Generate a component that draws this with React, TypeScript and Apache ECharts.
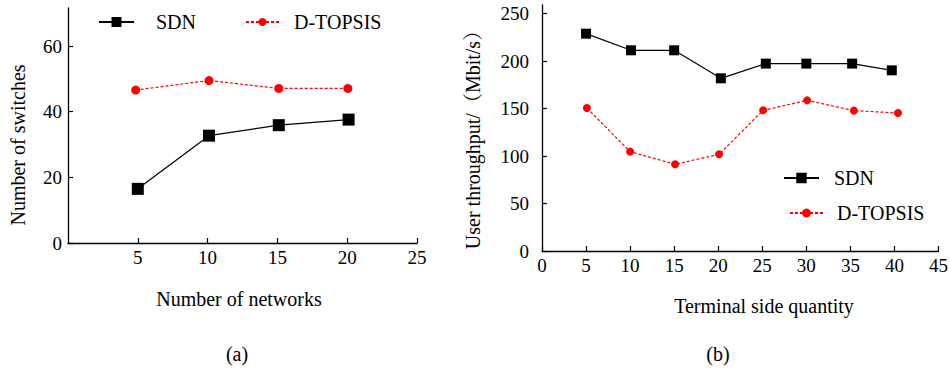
import React, { useEffect, useRef } from "react";
import * as echarts from "echarts";

// ---- Data ----
// Chart (a): Number of switches vs number of networks
const sdnA_x = [5, 10.1, 15.1, 20.1];
const sdnA_y = [16.5, 32.7, 35.9, 37.6];
const topsisA_x = [4.85, 10.1, 15.1, 20.05];
const topsisA_y = [46.6, 49.5, 47.1, 47.1];
const ticksAX = [5, 10, 15, 20, 25];
const ticksAY = [0, 20, 40, 60];

// Chart (b): User throughput vs terminal side quantity
const sdnB_x = [5.0, 10.1, 15.0, 20.3, 25.4, 30.0, 35.2, 39.7];
const sdnB_y = [228.8, 211.3, 211.3, 181.8, 197.3, 197.3, 197.3, 190.2];
const topsisB_x = [5.1, 10.0, 15.1, 20.1, 25.1, 30.1, 35.4, 40.4];
const topsisB_y = [150.5, 104.6, 91.3, 101.8, 148.1, 158.6, 147.8, 145.3];
const ticksBX = [0, 5, 10, 15, 20, 25, 30, 35, 40, 45];
const ticksBY = [0, 50, 100, 150, 200, 250];

const seriesNames = ["SDN", "D-TOPSIS"];
const titles = {
  ax: "Number of networks",
  ay: "Number of switches",
  bx: "Terminal side quantity",
  by: "User throughput/（Mbit/s）",
  ca: "(a)",
  cb: "(b)",
};

const FONT = "Liberation Serif, Noto Serif CJK SC, Noto Sans CJK SC, serif";
const RED = "#ff0000";

const zip = (xs: number[], ys: number[]) => xs.map((x, i) => [x, ys[i]]);

export default function App() {
  const ref = useRef<HTMLDivElement>(null);

  useEffect(() => {
    if (!ref.current) return;
    const chart = echarts.init(ref.current, undefined, { renderer: "svg" });

    const axisLine = { lineStyle: { color: "#000", width: 1.3 } };
    const axisTick = (vals: number[]) => ({
      inside: true,
      length: 5,
      lineStyle: { color: "#000", width: 1.2 },
      customValues: vals,
    });
    const axisLabel = (vals: number[], margin: number) => ({
      color: "#000",
      fontFamily: FONT,
      fontSize: 19,
      margin,
      customValues: vals,
    });

    const legendText = (pad: number) => ({
      color: "#000",
      fontFamily: FONT,
      fontSize: 20,
      lineHeight: 20,
      padding: [0, 0, 0, pad],
    });

    const textEl = (text: string, x: number, y: number, rotation = 0) => ({
      type: "text",
      x,
      y,
      rotation,
      style: {
        text,
        fill: "#000",
        fontFamily: FONT,
        fontSize: 20,
        align: "center",
        verticalAlign: "middle",
      },
    });

    chart.setOption({
      animation: false,
      backgroundColor: "#fff",
      grid: [
        { left: 68, top: 8, width: 349, height: 235 },
        { left: 542, top: 5, width: 398.5, height: 246 },
      ],
      xAxis: [
        {
          type: "value",
          gridIndex: 0,
          min: 0,
          max: 25,
          interval: 5,
          axisLine,
          axisTick: axisTick(ticksAX),
          axisLabel: axisLabel(ticksAX, 5),
          splitLine: { show: false },
        },
        {
          type: "value",
          gridIndex: 1,
          min: 0,
          max: 45,
          interval: 5,
          axisLine,
          axisTick: axisTick(ticksBX),
          axisLabel: axisLabel(ticksBX, 5),
          splitLine: { show: false },
        },
      ],
      yAxis: [
        {
          type: "value",
          gridIndex: 0,
          min: 0,
          max: 71.6,
          axisLine: { show: true, ...axisLine },
          axisTick: axisTick(ticksAY),
          axisLabel: axisLabel(ticksAY, 6),
          splitLine: { show: false },
        },
        {
          type: "value",
          gridIndex: 1,
          min: 0,
          max: 259,
          axisLine: { show: true, ...axisLine },
          axisTick: axisTick(ticksBY),
          axisLabel: axisLabel(ticksBY, 13),
          splitLine: { show: false },
        },
      ],
      legend: [
        {
          data: [seriesNames[0]],
          left: 98,
          top: 12,
          padding: 0,
          itemWidth: 35,
          itemHeight: 12.5,
          selectedMode: false,
          textStyle: legendText(17),
        },
        {
          data: [seriesNames[1]],
          left: 245,
          top: 12,
          padding: 0,
          itemWidth: 33,
          itemHeight: 10,
          selectedMode: false,
          textStyle: legendText(10),
        },
        {
          data: [seriesNames[0]],
          left: 783,
          top: 168,
          padding: 0,
          itemWidth: 35,
          itemHeight: 13,
          selectedMode: false,
          textStyle: legendText(10),
        },
        {
          data: [seriesNames[1]],
          left: 789,
          top: 203,
          padding: 0,
          itemWidth: 33,
          itemHeight: 11,
          selectedMode: false,
          textStyle: legendText(9),
        },
      ],
      series: [
        {
          name: seriesNames[0],
          type: "line",
          xAxisIndex: 0,
          yAxisIndex: 0,
          data: zip(sdnA_x, sdnA_y),
          symbol: "rect",
          symbolSize: 12,
          itemStyle: { color: "#000" },
          lineStyle: { color: "#000", width: 1.2, type: "solid" },
        },
        {
          name: seriesNames[1],
          type: "line",
          xAxisIndex: 0,
          yAxisIndex: 0,
          data: zip(topsisA_x, topsisA_y),
          symbol: "circle",
          symbolSize: 9,
          itemStyle: { color: RED },
          lineStyle: { color: RED, width: 1.2, type: [3, 2] },
        },
        {
          name: seriesNames[0],
          type: "line",
          xAxisIndex: 1,
          yAxisIndex: 1,
          data: zip(sdnB_x, sdnB_y),
          symbol: "rect",
          symbolSize: 10,
          itemStyle: { color: "#000" },
          lineStyle: { color: "#000", width: 1.2, type: "solid" },
        },
        {
          name: seriesNames[1],
          type: "line",
          xAxisIndex: 1,
          yAxisIndex: 1,
          data: zip(topsisB_x, topsisB_y),
          symbol: "circle",
          symbolSize: 8,
          itemStyle: { color: RED },
          lineStyle: { color: RED, width: 1.2, type: [3, 2] },
        },
      ],
      graphic: [
        textEl(titles.ax, 239, 299),
        textEl(titles.ay, 18, 145, Math.PI / 2),
        textEl(titles.bx, 764, 306),
        textEl(titles.by, 473, 135, Math.PI / 2),
        textEl(titles.ca, 237, 354),
        textEl(titles.cb, 718, 354),
      ],
    });

    return () => chart.dispose();
  }, []);

  return (
    <div
      ref={ref}
      style={{ position: "absolute", left: 0, top: 0, width: 951, height: 369 }}
    />
  );
}
